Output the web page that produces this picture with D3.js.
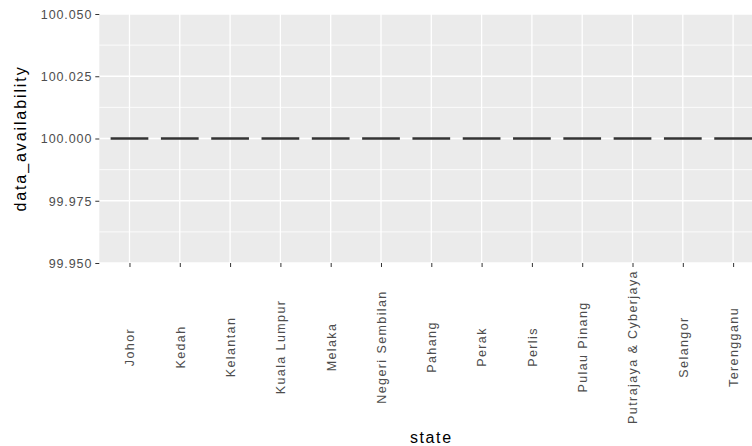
<!DOCTYPE html>
<html>
<head>
<meta charset="utf-8">
<script src="https://cdn.jsdelivr.net/npm/d3@7"></script>
<style>
  html, body { margin: 0; padding: 0; background: #ffffff; }
  svg { display: block; }
  text { font-family: "Liberation Sans", Arial, sans-serif; }
</style>
</head>
<body>
<svg id="chart" width="752" height="446"></svg>
<script>
// States on the x axis
const states = [
  "Johor", "Kedah", "Kelantan", "Kuala Lumpur", "Melaka", "Negeri Sembilan",
  "Pahang", "Perak", "Perlis", "Pulau Pinang", "Putrajaya & Cyberjaya",
  "Selangor", "Terengganu"
];
// Box summary per state (lower hinge, median, upper hinge)
const q1 =     [100, 100, 100, 100, 100, 100, 100, 100, 100, 100, 100, 100, 100];
const median = [100, 100, 100, 100, 100, 100, 100, 100, 100, 100, 100, 100, 100];
const q3 =     [100, 100, 100, 100, 100, 100, 100, 100, 100, 100, 100, 100, 100];
// Y axis range and ticks
const yDomain = [99.95, 100.05];
const yTicks = [99.95, 99.975, 100.0, 100.025, 100.05];
const yMinorTicks = [99.9625, 99.9875, 100.0125, 100.0375];

const svg = d3.select("#chart");
const panel = { left: 99.3, right: 763.3, top: 14, bottom: 263 };

const x = d3.scalePoint()
  .domain(states)
  .range([panel.left, panel.right])
  .padding(0.6);
const y = d3.scaleLinear().domain(yDomain).range([panel.bottom, panel.top]);

// Panel background
svg.append("rect")
  .attr("x", panel.left).attr("y", panel.top)
  .attr("width", panel.right - panel.left)
  .attr("height", panel.bottom - panel.top)
  .attr("fill", "#ebebeb");

const grid = svg.append("g");
grid.selectAll("line.minor").data(yMinorTicks).join("line")
  .attr("x1", panel.left).attr("x2", panel.right)
  .attr("y1", d => y(d)).attr("y2", d => y(d))
  .attr("stroke", "#ffffff").attr("stroke-width", 0.8);
grid.selectAll("line.majorY").data(yTicks).join("line")
  .attr("x1", panel.left).attr("x2", panel.right)
  .attr("y1", d => y(d)).attr("y2", d => y(d))
  .attr("stroke", "#ffffff").attr("stroke-width", 1.3);
grid.selectAll("line.majorX").data(states).join("line")
  .attr("x1", d => x(d)).attr("x2", d => x(d))
  .attr("y1", panel.top).attr("y2", panel.bottom)
  .attr("stroke", "#ffffff").attr("stroke-width", 1.3);

// Boxplots (boxes collapse onto the median when hinges coincide)
const boxW = x.step() * 0.75;
const boxes = svg.append("g");
states.forEach((s, i) => {
  const cx = x(s);
  const top = y(q3[i]), bot = y(q1[i]);
  boxes.append("rect")
    .attr("x", cx - boxW / 2).attr("y", top)
    .attr("width", boxW).attr("height", Math.max(0, bot - top))
    .attr("fill", "#ffffff").attr("stroke", "#333333").attr("stroke-width", 1);
  boxes.append("line")
    .attr("x1", cx - boxW / 2).attr("x2", cx + boxW / 2)
    .attr("y1", y(median[i])).attr("y2", y(median[i]))
    .attr("stroke", "#333333").attr("stroke-width", 2.6);
});

// Y axis
const yAxis = svg.append("g")
  .attr("transform", `translate(${panel.left},0)`)
  .call(d3.axisLeft(y).tickValues(yTicks).tickFormat(d3.format(".3f"))
    .tickSize(4).tickPadding(3));
yAxis.select(".domain").remove();
yAxis.selectAll(".tick line").attr("stroke", "#333333").attr("stroke-width", 1);
yAxis.selectAll(".tick text")
  .attr("fill", "#4d4d4d").style("font-size", "12.5px")
  .style("letter-spacing", "0.9px").attr("dy", "0.34em");

// X axis
const xAxis = svg.append("g")
  .attr("transform", `translate(0,${panel.bottom})`)
  .call(d3.axisBottom(x).tickSize(4).tickPadding(0));
xAxis.select(".domain").remove();
xAxis.selectAll(".tick line").attr("stroke", "#333333").attr("stroke-width", 1);
xAxis.selectAll(".tick text")
  .attr("fill", "#4d4d4d").style("font-size", "12.5px")
  .style("letter-spacing", "1.4px")
  .attr("text-anchor", "middle")
  .attr("x", 0).attr("y", 0).attr("dy", "0.35em")
  .attr("transform", "translate(0,84) rotate(-90)");

// Axis titles
svg.append("text")
  .attr("x", (panel.left + panel.right) / 2).attr("y", 443)
  .attr("text-anchor", "middle")
  .style("font-size", "16px").style("letter-spacing", "1.6px")
  .attr("fill", "#000000")
  .text("state");
svg.append("text")
  .attr("transform", `translate(26,${(panel.top + panel.bottom) / 2}) rotate(-90)`)
  .attr("text-anchor", "middle")
  .style("font-size", "16px").style("letter-spacing", "1.9px")
  .attr("fill", "#000000")
  .text("data_availability");
</script>
</body>
</html>
